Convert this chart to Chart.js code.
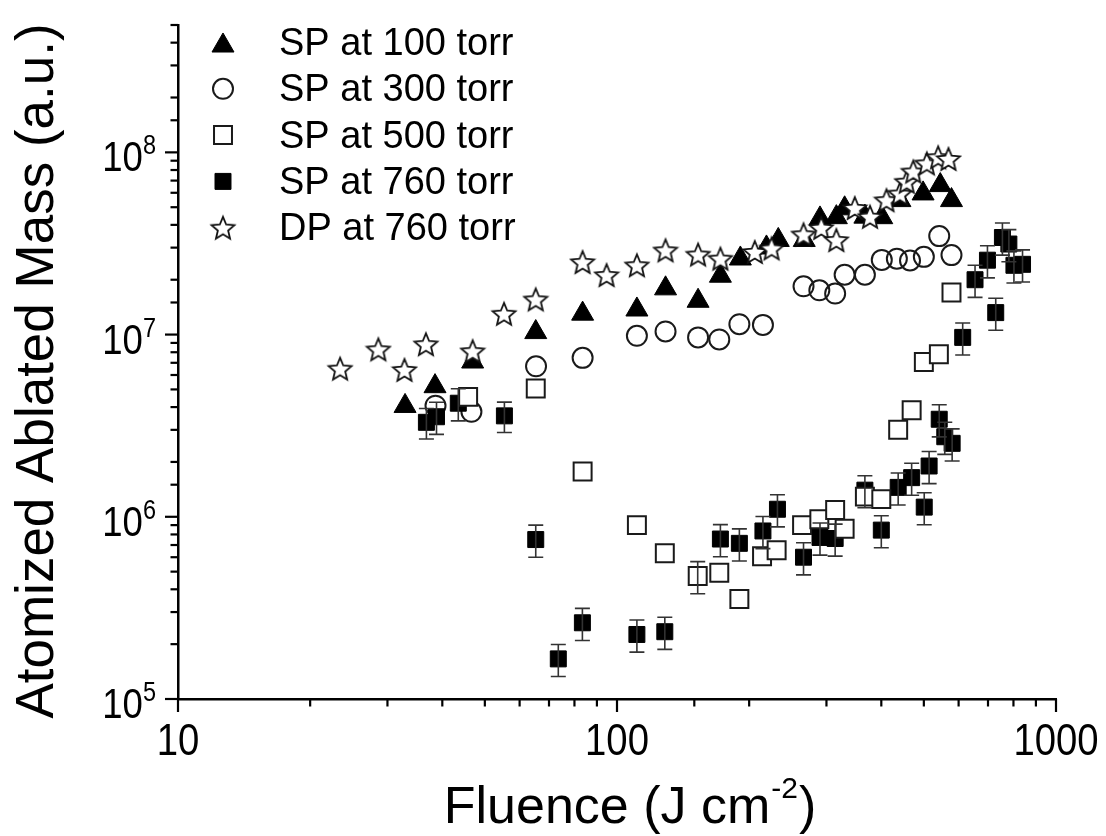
<!DOCTYPE html>
<html><head><meta charset="utf-8">
<script src="https://cdn.jsdelivr.net/npm/chart.js@4.4.0/dist/chart.umd.min.js"></script>
<style>html,body{margin:0;padding:0;background:#fff;}#wrap{width:1106px;height:836px;}</style>
</head><body><div id="wrap"><canvas id="c" width="1106" height="836"></canvas></div>
<script>
// ---------- data ----------
const seriesNames = ['SP at 100 torr', 'SP at 300 torr', 'SP at 500 torr', 'SP at 760 torr', 'DP at 760 torr'];
const xTitleParts = ['Fluence (J cm', '-2', ')'];
const yTitle = 'Atomized Ablated Mass (a.u.)';
const xTickValues = [10, 100, 1000];
const xTickLabels = ['10', '100', '1000'];
const yTickValues = [1e5, 1e6, 1e7, 1e8];
const yTickBase = '10';
const yTickExps = ['5', '6', '7', '8'];

const fluence100 = [32.9, 38.5, 46.9, 65.3, 83.5, 111, 129, 153, 172, 191, 219, 233, 267, 290, 316, 330, 367, 401, 441, 498, 545, 578];
const mass100 = [4.05e6, 5.2e6, 7.1e6, 1.03e7, 1.3e7, 1.37e7, 1.79e7, 1.53e7, 2.1e7, 2.61e7, 3.0e7, 3.3e7, 3.3e7, 4.33e7, 4.4e7, 4.92e7, 4.43e7, 4.4e7, 5.46e7, 5.94e7, 6.6e7, 5.46e7];

const fluence300 = [38.6, 46.6, 65.4, 83.5, 111, 129, 153, 171, 190, 215, 266, 289, 314, 330, 367, 401, 434, 465, 500, 542, 578];
const mass300 = [4.07e6, 3.77e6, 6.7e6, 7.45e6, 9.85e6, 1.04e7, 9.65e6, 9.4e6, 1.14e7, 1.13e7, 1.84e7, 1.75e7, 1.68e7, 2.13e7, 2.13e7, 2.57e7, 2.61e7, 2.55e7, 2.67e7, 3.47e7, 2.73e7];

const fluence500 = [45.8, 65.3, 83.5, 111, 128.5, 152.7, 171, 190, 214, 231, 264, 289, 314, 330, 367, 400, 437, 469, 500, 541, 578];
const mass500 = [4.55e6, 5.06e6, 1.77e6, 9.0e5, 6.3e5, 4.73e5, 4.93e5, 3.54e5, 6.08e5, 6.56e5, 9.0e5, 9.7e5, 1.09e6, 8.6e5, 1.29e6, 1.25e6, 3.0e6, 3.84e6, 7.08e6, 7.8e6, 1.70e7];
const relErr500 = [0, 0, 0, 0, 0, 0.2, 0, 0, 0, 0, 0, 0, 0, 0, 0, 0, 0, 0, 0, 0, 0];

const fluence760 = [36.8, 38.8, 43.5, 55.4, 65.3, 73.5, 83.4, 111, 128.5, 172, 190, 215, 232, 266, 290, 314, 367, 400, 437, 469, 501, 514, 542, 558, 580, 613, 654, 698, 729, 755, 781, 802, 839];
const mass760 = [3.3e6, 3.54e6, 4.2e6, 3.58e6, 7.5e5, 1.66e5, 2.62e5, 2.26e5, 2.34e5, 7.55e5, 7.15e5, 8.36e5, 1.1e6, 6.0e5, 7.7e5, 7.6e5, 1.4e6, 8.45e5, 1.45e6, 1.64e6, 1.13e6, 1.9e6, 3.43e6, 2.75e6, 2.53e6, 9.65e6, 2.0e7, 2.56e7, 1.32e7, 3.41e7, 3.14e7, 2.4e7, 2.43e7];
const relErr760 = [0.19, 0.2, 0.2, 0.19, 0.2, 0.2, 0.2, 0.2, 0.2, 0.2, 0.2, 0.2, 0.2, 0.2, 0.2, 0.2, 0.2, 0.2, 0.2, 0.2, 0.2, 0.2, 0.2, 0.2, 0.2, 0.2, 0.2, 0.2, 0.2, 0.2, 0.2, 0.2, 0.2];

const fluenceDP = [23.4, 28.6, 32.8, 36.7, 46.9, 55.3, 65.3, 83.5, 94.7, 111, 129, 153, 172, 206, 225, 266, 292, 316, 348, 377, 411, 441, 457, 473, 508, 539, 569];
const massDP = [6.5e6, 8.3e6, 6.4e6, 8.85e6, 8.1e6, 1.3e7, 1.56e7, 2.5e7, 2.12e7, 2.4e7, 2.9e7, 2.75e7, 2.61e7, 2.84e7, 2.97e7, 3.55e7, 3.85e7, 3.3e7, 4.95e7, 4.43e7, 5.46e7, 5.94e7, 6.9e7, 7.85e7, 8.7e7, 9.4e7, 9.2e7];

// ---------- styling ----------
const FONT = "'Liberation Sans', Arial, sans-serif";
const TICK_SQUEEZE = 0.87;

function makeStar(R) {
  const s = Math.ceil(R * 2 + 4);
  const c = document.createElement('canvas');
  c.width = s; c.height = s;
  const g = c.getContext('2d');
  const cx = s / 2, cy = s / 2 + R * 0.095;
  g.beginPath();
  for (let i = 0; i < 10; i++) {
    const r = i % 2 ? R * 0.45 : R;
    const a = -Math.PI / 2 + i * Math.PI / 5;
    g.lineTo(cx + r * Math.cos(a), cy + r * Math.sin(a));
  }
  g.closePath();
  g.fillStyle = '#fff'; g.fill();
  g.lineWidth = 1.8; g.strokeStyle = '#111'; g.stroke();
  return c;
}
const starImg = makeStar(12);

const pts = (xs, ys) => xs.map((x, i) => ({x: x, y: ys[i]}));
const isPow10 = v => { const l = Math.log10(v); return Math.abs(l - Math.round(l)) < 1e-6; };

const datasets = [
  {label: seriesNames[0], data: pts(fluence100, mass100), pointStyle: 'triangle', pointRadius: 12.7,
   backgroundColor: '#000', borderColor: '#000', borderWidth: 1, order: 4},
  {label: seriesNames[1], data: pts(fluence300, mass300), pointStyle: 'circle', pointRadius: 10,
   backgroundColor: 'rgba(0,0,0,0)', borderColor: '#1a1a1a', borderWidth: 2, order: 3},
  {label: seriesNames[2], data: pts(fluence500, mass500), pointStyle: 'rect', pointRadius: 12.7,
   backgroundColor: '#fff', borderColor: '#1a1a1a', borderWidth: 2, order: 1, relErr: relErr500},
  {label: seriesNames[3], data: pts(fluence760, mass760), pointStyle: 'rect', pointRadius: 11.3,
   backgroundColor: '#000', borderColor: '#000', borderWidth: 1, order: 2, relErr: relErr760},
  {label: seriesNames[4], data: pts(fluenceDP, massDP), pointStyle: starImg, pointRadius: 12,
   backgroundColor: '#fff', borderColor: '#111', borderWidth: 1.8, order: 0}
];

// error bars drawn through the scales
const errorBars = {
  id: 'errorBars',
  afterDatasetsDraw(chart) {
    const ctx = chart.ctx, xs = chart.scales.x, ys = chart.scales.y;
    ctx.save();
    ctx.strokeStyle = '#333'; ctx.lineWidth = 1.6;
    chart.data.datasets.forEach(ds => {
      if (!ds.relErr) return;
      ds.data.forEach((p, i) => {
        const e = ds.relErr[i];
        if (!e) return;
        const px = xs.getPixelForValue(p.x);
        const yTop = ys.getPixelForValue(p.y * (1 + e));
        const yBot = ys.getPixelForValue(p.y * (1 - e));
        ctx.beginPath();
        ctx.moveTo(px, yTop); ctx.lineTo(px, yBot);
        ctx.moveTo(px - 7.5, yTop); ctx.lineTo(px + 7.5, yTop);
        ctx.moveTo(px - 7.5, yBot); ctx.lineTo(px + 7.5, yBot);
        ctx.stroke();
      });
    });
    ctx.restore();
  }
};

function squeezedText(ctx, text, x, y, align) {
  ctx.save();
  ctx.translate(x, y);
  ctx.scale(TICK_SQUEEZE, 1);
  ctx.textAlign = align;
  ctx.fillText(text, 0, 0);
  ctx.restore();
}

// outward tick marks (major longer than minor), tick labels and axis titles
const axisDecor = {
  id: 'axisDecor',
  afterDraw(chart) {
    const ctx = chart.ctx, xs = chart.scales.x, ys = chart.scales.y;
    ctx.save();
    ctx.strokeStyle = '#000'; ctx.lineWidth = 2.2;
    xs.ticks.forEach(t => {
      const p = xs.getPixelForValue(t.value);
      const L = isPow10(t.value) ? 13 : 7.5;
      ctx.beginPath(); ctx.moveTo(p, xs.top); ctx.lineTo(p, xs.top + L); ctx.stroke();
    });
    ys.ticks.forEach(t => {
      const p = ys.getPixelForValue(t.value);
      const L = isPow10(t.value) ? 13 : 7.5;
      ctx.beginPath(); ctx.moveTo(ys.right, p); ctx.lineTo(ys.right - L, p); ctx.stroke();
    });

    ctx.fillStyle = '#000';
    ctx.textBaseline = 'alphabetic';
    // x tick labels
    ctx.font = '44px ' + FONT;
    xTickValues.forEach((v, i) => squeezedText(ctx, xTickLabels[i], xs.getPixelForValue(v), xs.top + 56, 'center'));
    // y tick labels with superscript exponent
    const yRight = ys.right - 22;
    yTickValues.forEach((v, i) => {
      const p = ys.getPixelForValue(v);
      ctx.font = '27px ' + FONT;
      const ew = ctx.measureText(yTickExps[i]).width * TICK_SQUEEZE;
      squeezedText(ctx, yTickExps[i], yRight, p + 2, 'right');
      ctx.font = '42px ' + FONT;
      squeezedText(ctx, yTickBase, yRight - ew, p + 19, 'right');
    });
    // x title with superscript
    ctx.textAlign = 'left';
    const mainFont = '52px ' + FONT, supFont = '30px ' + FONT;
    ctx.font = mainFont; const w0 = ctx.measureText(xTitleParts[0]).width;
    const w2 = ctx.measureText(xTitleParts[2]).width;
    ctx.font = supFont; const w1 = ctx.measureText(xTitleParts[1]).width;
    const total = w0 + w1 + w2 + 2;
    let tx = 630 - total / 2;
    const tb = 823;
    ctx.font = mainFont; ctx.fillText(xTitleParts[0], tx, tb); tx += w0 + 1;
    ctx.font = supFont; ctx.fillText(xTitleParts[1], tx, tb - 25); tx += w1 + 1;
    ctx.font = mainFont; ctx.fillText(xTitleParts[2], tx, tb);
    // y title (rotated)
    ctx.translate(53, 371);
    ctx.rotate(-Math.PI / 2);
    ctx.textAlign = 'center';
    ctx.font = '53px ' + FONT;
    ctx.fillText(yTitle, 0, 0);
    ctx.restore();
  }
};

// legend in the upper left of the plot
const legendBox = {
  id: 'legendBox',
  afterDraw(chart) {
    const ctx = chart.ctx;
    const symX = 223, textX = 279, base0 = 55, step = 46.3;
    ctx.save();
    chart.data.datasets.forEach((ds, i) => {
      const base = base0 + step * i;
      const cy = base - 12.5;
      ctx.beginPath();
      if (ds.pointStyle === 'triangle') {
        const r = ds.pointRadius, c = cy + r * 0.25;
        ctx.moveTo(symX, c - r);
        ctx.lineTo(symX + r * 0.866, c + r * 0.5);
        ctx.lineTo(symX - r * 0.866, c + r * 0.5);
        ctx.closePath();
        ctx.fillStyle = ds.backgroundColor; ctx.fill();
        ctx.lineWidth = ds.borderWidth; ctx.strokeStyle = ds.borderColor; ctx.stroke();
      } else if (ds.pointStyle === 'circle') {
        ctx.arc(symX, cy, ds.pointRadius, 0, Math.PI * 2);
        ctx.lineWidth = ds.borderWidth; ctx.strokeStyle = ds.borderColor; ctx.stroke();
      } else if (ds.pointStyle === 'rect') {
        const h = ds.pointRadius * Math.SQRT1_2;
        ctx.rect(symX - h, cy - h, 2 * h, 2 * h);
        ctx.fillStyle = ds.backgroundColor; ctx.fill();
        ctx.lineWidth = ds.borderWidth; ctx.strokeStyle = ds.borderColor; ctx.stroke();
      } else {
        const img = ds.pointStyle;
        ctx.drawImage(img, symX - img.width / 2, cy - img.height / 2);
      }
      ctx.fillStyle = '#000';
      ctx.font = '38px ' + FONT;
      ctx.textBaseline = 'alphabetic';
      ctx.textAlign = 'left';
      ctx.fillText(ds.label, textX, base);
    });
    ctx.restore();
  }
};

new Chart(document.getElementById('c'), {
  type: 'scatter',
  data: {datasets: datasets},
  plugins: [errorBars, axisDecor, legendBox],
  options: {
    responsive: false,
    animation: false,
    devicePixelRatio: 1,
    layout: {padding: {top: 25, right: 50, left: 0, bottom: 0}},
    plugins: {legend: {display: false}, tooltip: {enabled: false}},
    elements: {point: {hoverRadius: 0}},
    scales: {
      x: {
        type: 'logarithmic', min: 10, max: 1000, position: 'bottom',
        afterFit(s) { s.height = 137; },
        grid: {display: false, drawTicks: false},
        border: {display: true, color: '#000', width: 2.5},
        ticks: {display: false, autoSkip: false},
        title: {display: false}
      },
      y: {
        type: 'logarithmic', min: 1e5, max: 5e8, position: 'left',
        afterFit(s) { s.width = 178; },
        grid: {display: false, drawTicks: false},
        border: {display: true, color: '#000', width: 2.5},
        ticks: {display: false, autoSkip: false},
        title: {display: false}
      }
    }
  }
});
</script>
</body></html>
